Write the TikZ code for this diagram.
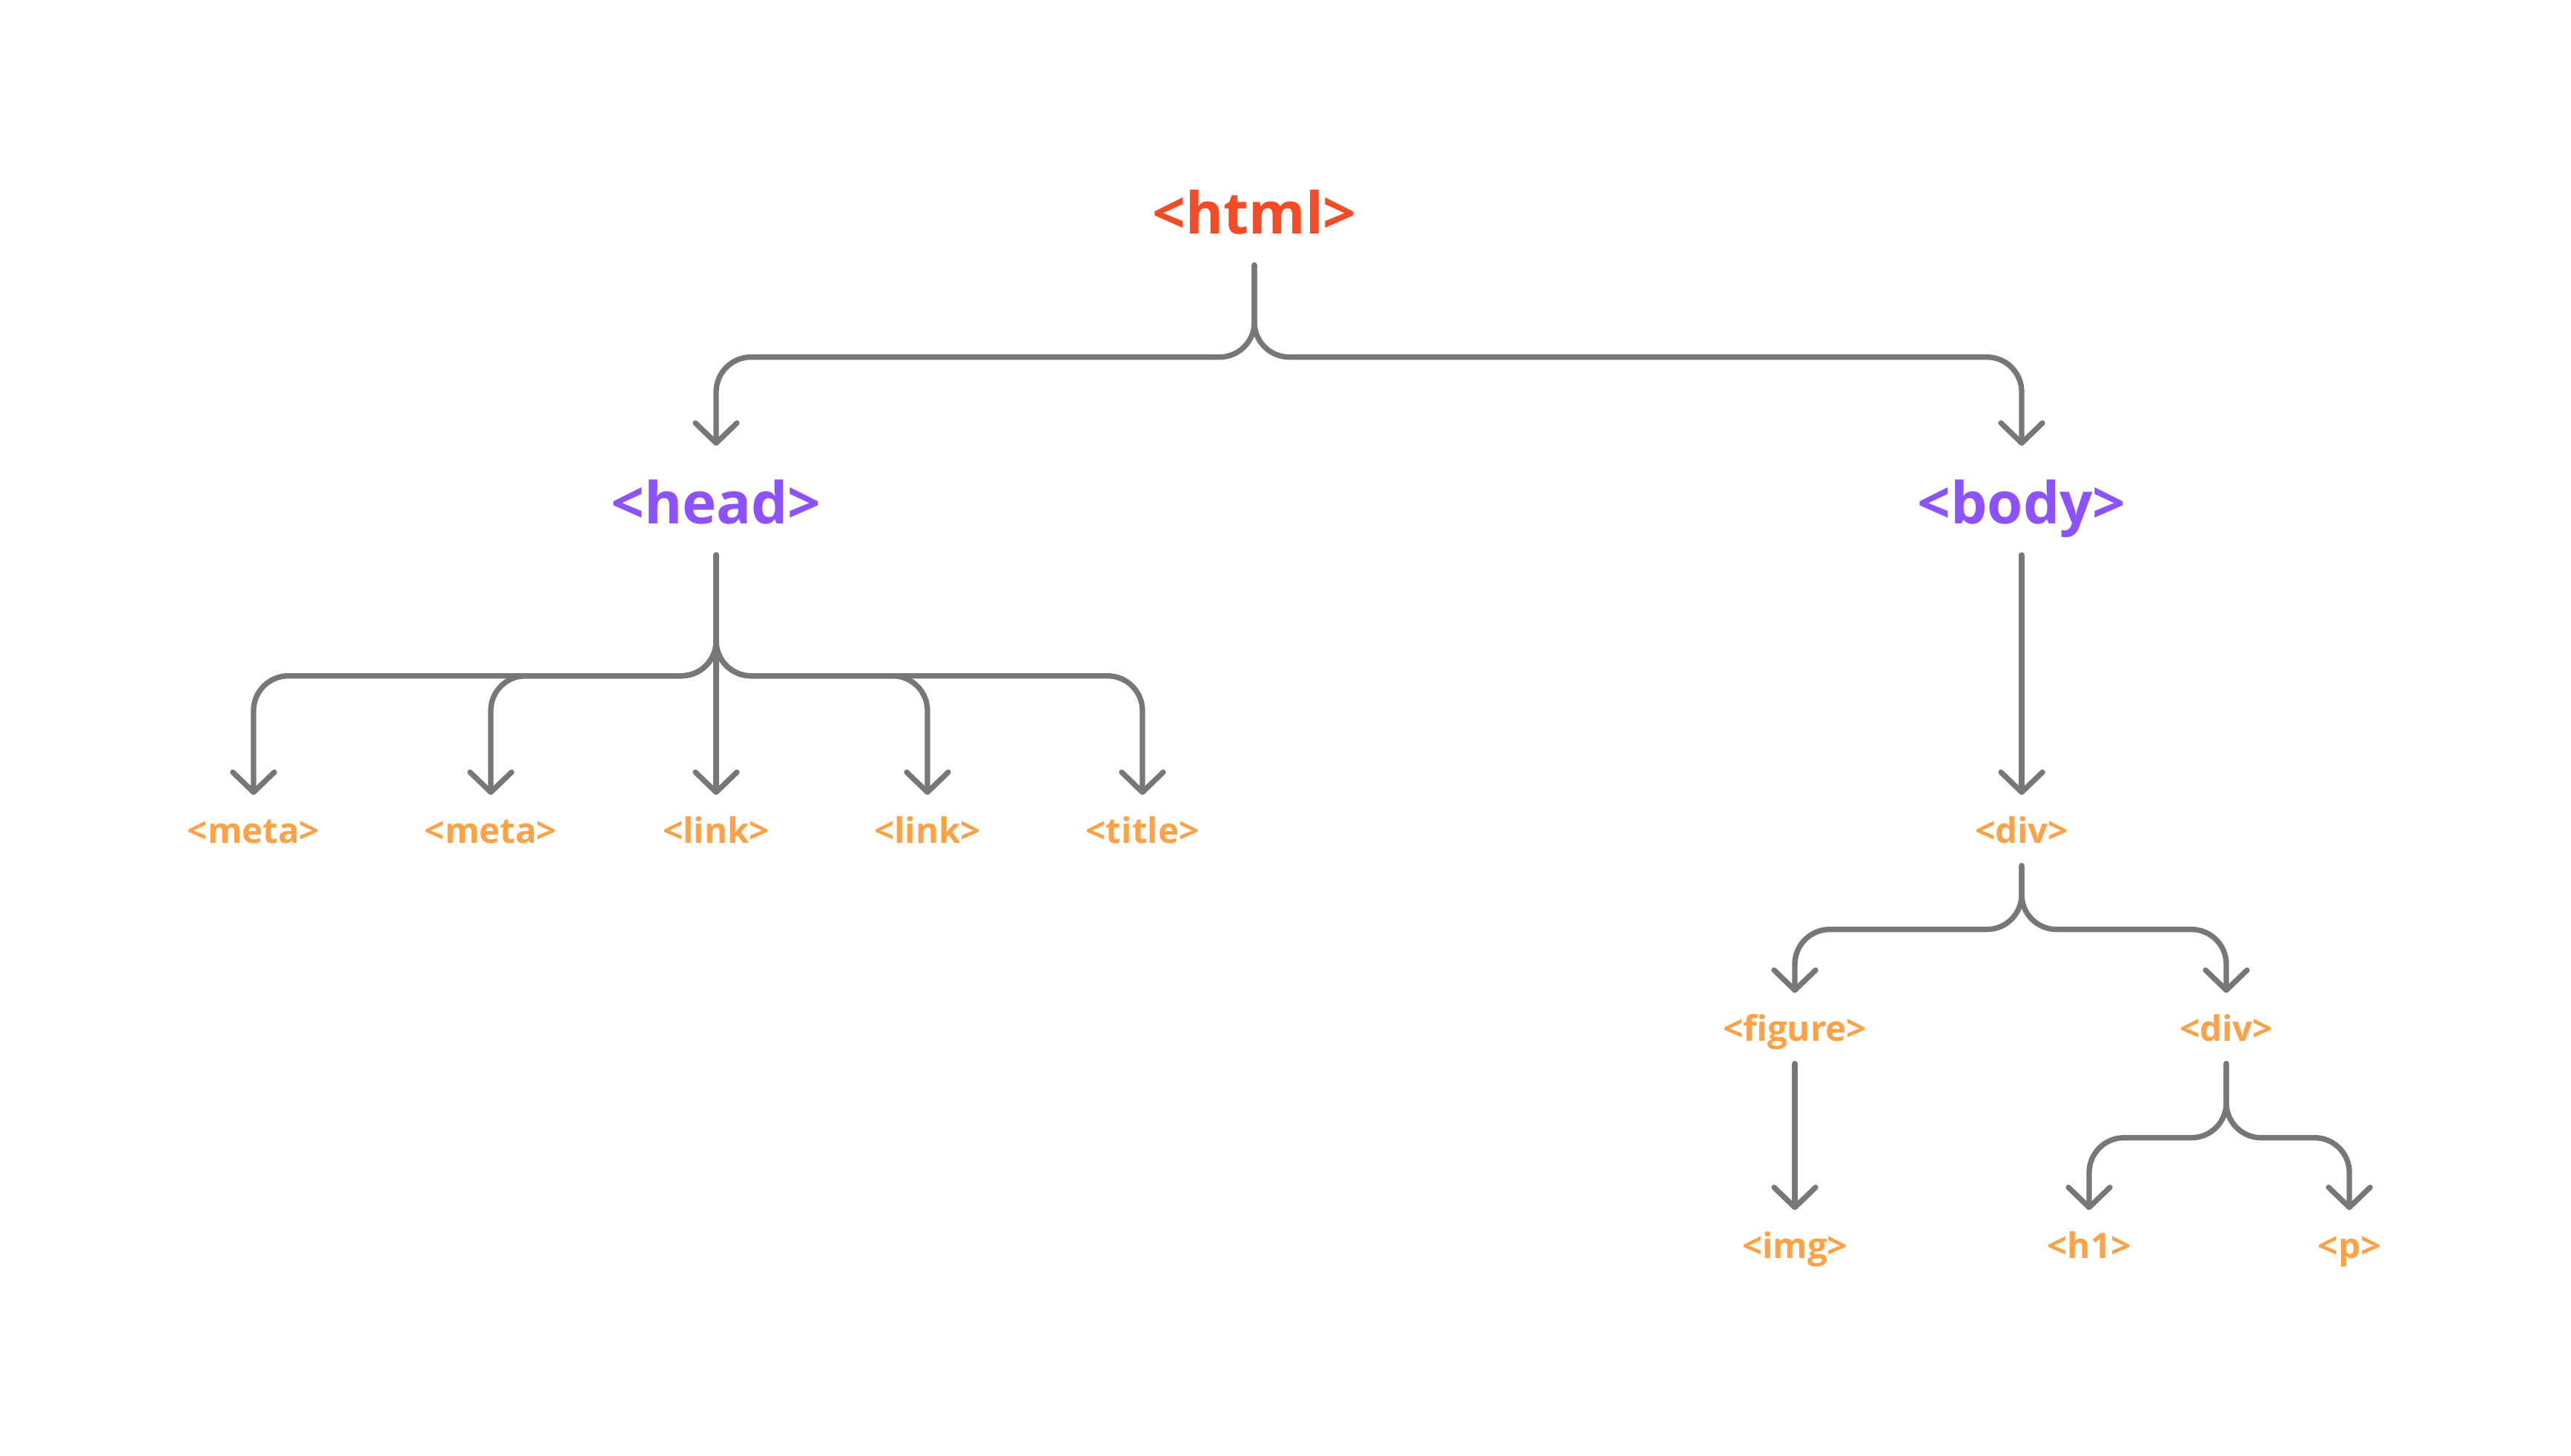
\documentclass[tikz,border=0pt]{standalone}
\usepackage{fontspec}
\setmainfont{Open Sans}
\usetikzlibrary{positioning,arrows.meta}
\definecolor{htmlred}{HTML}{F24B25}
\definecolor{tagpurple}{HTML}{8C52FF}
\definecolor{tagorange}{HTML}{FFA145}
\definecolor{linegrey}{HTML}{777777}
\tikzset{
  root node/.style={font=\bfseries\fontsize{22.2}{26}\selectfont, text height=1.05cm, text depth=0.41cm, inner sep=0pt},
  sec node/.style={root node, text=tagpurple},
  leaf node/.style={font=\bfseries\fontsize{13.5}{16}\selectfont, text=tagorange, text height=0.65cm, text depth=0.29cm, inner sep=0pt},
  branch/.style={draw=linegrey, line width=0.073cm, line cap=round, rounded corners=0.47cm,
    -{Straight Barb[length=0.27cm, width=0.56cm, line join=round, line cap=round]}}
}

\begin{document}
\begin{tikzpicture}[on grid]
    \useasboundingbox (0,0) rectangle (34.68,19.64);
    % Top of the tree
    \node[root node, text=htmlred] (html) at (16.92,16.80) {<html>};
    \node[sec node] (head) [below left = 3.91cm and 7.26cm of html] {<head>};
    \node[sec node] (body) [below right = 3.91cm and 10.35cm of html] {<body>};

    % Children of head
    \node[leaf node] (meta1) [below left = 4.45cm and 6.24cm of head] {<meta>};
    \node[leaf node] (meta2) [below left = 4.45cm and 3.04cm of head] {<meta>};
    \node[leaf node] (link1) [below = 4.45cm of head] {<link>};
    \node[leaf node] (link2) [below right = 4.45cm and 2.85cm of head] {<link>};
    \node[leaf node] (title) [below right = 4.45cm and 5.75cm of head] {<title>};

    % Children of body
    \node[leaf node] (div1) [below = 4.45cm of body] {<div>};
    \node[leaf node] (figure) [below left = 2.67cm and 3.06cm of div1] {<figure>};
    \node[leaf node] (div2) [below right = 2.67cm and 2.76cm of div1] {<div>};
    \node[leaf node] (img) [below = 2.93cm of figure] {<img>};
    \node[leaf node] (h1) [below left = 2.93cm and 1.85cm of div2] {<h1>};
    \node[leaf node] (p) [below right = 2.93cm and 1.66cm of div2] {<p>};

    % Draw the branches
    \draw[branch] (html.south) -- ++(0,-1.24) -| (head.north);
    \draw[branch] (html.south) -- ++(0,-1.24) -| (body.north);

    \draw[branch] (head.south) -- ++(0,-1.63) -| (meta1.north);
    \draw[branch] (head.south) -- ++(0,-1.63) -| (meta2.north);
    \draw[branch] (head.south) -- (link1.north);
    \draw[branch] (head.south) -- ++(0,-1.63) -| (link2.north);
    \draw[branch] (head.south) -- ++(0,-1.63) -| (title.north);

    \draw[branch] (body.south) -- (div1.north);
    \draw[branch] (div1.south) -- ++(0,-0.86) -| (figure.north);
    \draw[branch] (div1.south) -- ++(0,-0.86) -| (div2.north);
    \draw[branch] (figure.south) -- (img.north);
    \draw[branch] (div2.south) -- ++(0,-1.00) -| (h1.north);
    \draw[branch] (div2.south) -- ++(0,-1.00) -| (p.north);
\end{tikzpicture}
\end{document}
